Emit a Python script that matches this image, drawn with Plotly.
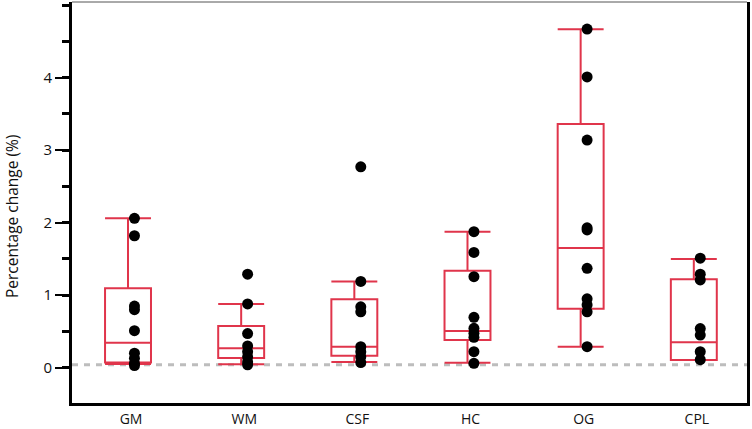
import plotly.graph_objects as go

categories = ["GM", "WM", "CSF", "HC", "OG", "CPL"]

upper_fence = [2.06, 0.88, 1.19, 1.876, 4.667, 1.50]
q3_values = [1.095, 0.575, 0.943, 1.338, 3.361, 1.219]
median_values = [0.345, 0.267, 0.29, 0.506, 1.651, 0.35]
q1_values = [0.07, 0.134, 0.166, 0.382, 0.814, 0.106]
lower_fence = [0.05, 0.047, 0.08, 0.069, 0.29, 0.106]

points_gm = [2.06, 1.82, 0.85, 0.80, 0.51, 0.20, 0.13, 0.06, 0.03]
points_wm = [1.29, 0.88, 0.47, 0.30, 0.22, 0.15, 0.08, 0.04]
points_csf = [2.77, 1.19, 0.84, 0.77, 0.29, 0.22, 0.15, 0.07]
points_hc = [1.876, 1.59, 1.255, 0.695, 0.543, 0.474, 0.419, 0.221, 0.061]
points_og = [4.67, 4.01, 3.14, 1.93, 1.90, 1.37, 0.95, 0.865, 0.77, 0.29]
points_cpl = [1.51, 1.29, 1.21, 0.54, 0.45, 0.22, 0.11]

baseline = 0.04
y_tick_values = [0, 1, 2, 3, 4]
y_tick_labels = ["0", "1", "2", "3", "4"]

RED = "#e0354b"
FONT = "Open Sans"

positions = list(range(len(categories)))
all_points = [points_gm, points_wm, points_csf, points_hc, points_og, points_cpl]

fig = go.Figure()

fig.add_trace(go.Box(
    x=positions,
    q1=q1_values,
    median=median_values,
    q3=q3_values,
    lowerfence=lower_fence,
    upperfence=upper_fence,
    boxpoints=False,
    width=0.406,
    whiskerwidth=1,
    line=dict(color=RED, width=2),
    fillcolor="rgba(0,0,0,0)",
    showlegend=False,
    hoverinfo="skip",
))

dot_offset = 0.057
px, py = [], []
for pos, pts in zip(positions, all_points):
    for v in pts:
        px.append(pos + dot_offset)
        py.append(v)

fig.add_trace(go.Scatter(
    x=px, y=py, mode="markers",
    marker=dict(color="black", size=11, line=dict(width=0)),
    showlegend=False, hoverinfo="skip",
))

# dotted baseline
fig.add_shape(type="line", xref="paper", yref="y", x0=0, x1=1,
              y0=baseline, y1=baseline,
              line=dict(color="#bdbdbd", width=3, dash="6px,6px"), layer="below")
# thin top border
fig.add_shape(type="line", xref="paper", yref="paper", x0=0, x1=1, y0=1, y1=1,
              line=dict(color="#555555", width=1))

fig.add_annotation(
    text="Percentage change (%)", textangle=-90,
    xref="paper", yref="paper", x=(12 - 72) / 675, y=(403 - 217) / 401,
    xanchor="center", yanchor="middle", showarrow=False,
    font=dict(family=FONT, size=15.5, color="#111111"),
)

fig.update_layout(
    width=752, height=429,
    margin=dict(l=72, r=5, t=2, b=26),
    paper_bgcolor="white", plot_bgcolor="white",
    font=dict(family=FONT, size=15, color="#111111"),
    xaxis=dict(
        range=[-0.495, 5.47],
        tickvals=[p + 0.027 for p in positions],
        ticktext=categories,
        showgrid=False, zeroline=False,
        showline=True, linecolor="black", linewidth=3,
        ticks="", tickfont=dict(size=14, family=FONT),
        ticklabelstandoff=1, automargin=False,
    ),
    yaxis=dict(
        range=[-0.487, 5.044],
        tickvals=y_tick_values, ticktext=y_tick_labels,
        showgrid=False, zeroline=False,
        showline=True, linecolor="black", linewidth=3, mirror=True,
        ticks="outside", ticklen=14, tickwidth=2, tickcolor="black",
        tickfont=dict(size=15, family=FONT), automargin=False,
        minor=dict(dtick=0.5, tick0=0, ticks="outside", ticklen=7,
                   tickwidth=3, tickcolor="black", showgrid=False),
    ),
)

fig.write_html(
    "out.html",
    config={"displayModeBar": False},
    post_script="document.body.style.margin='0';document.body.style.overflow='hidden';",
)
